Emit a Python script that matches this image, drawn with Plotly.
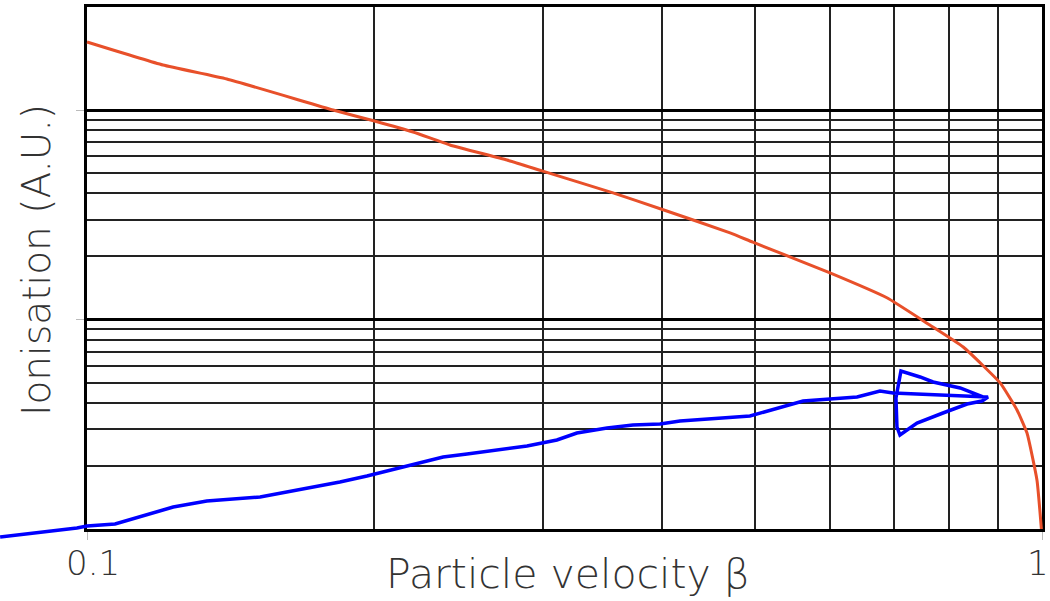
import math
import plotly.graph_objects as go

# Ionisation vs particle velocity (both axes logarithmic)
red_beta = [0.1, 0.1201, 0.1401, 0.181, 0.2, 0.2195, 0.2399, 0.2753, 0.2995, 0.3555,
            0.399, 0.4714, 0.498, 0.5998, 0.688, 0.763, 0.827, 0.904, 0.9415, 0.9645,
            0.988, 0.9985]
red_ion = [211.2, 164.0, 140.6, 100.0, 88.6, 78.5, 68.1, 57.7, 51.2, 40.2,
           33.7, 25.9, 23.4, 16.7, 12.7, 9.41, 7.39, 4.98, 3.70, 2.87,
           1.71, 1.0]

blue_beta = [0.0811, 0.0944, 0.0976, 0.1, 0.107, 0.1231, 0.1335, 0.1518, 0.162, 0.1671,
             0.184, 0.1964, 0.2127, 0.236, 0.25, 0.2707, 0.2889, 0.3105, 0.3258, 0.3504,
             0.3729, 0.3981, 0.4178, 0.4945, 0.5621, 0.6402, 0.6766, 0.6982,
             0.8779, 0.8653, 0.8347, 0.7876, 0.7398, 0.71, 0.7049, 0.7032,
             0.7117, 0.7453, 0.769, 0.8209, 0.847, 0.8674]
blue_ion = [0.916, 0.989, 1.011, 1.033, 1.056, 1.274, 1.36, 1.421, 1.502, 1.552,
            1.676, 1.79, 1.955, 2.206, 2.28, 2.383, 2.49, 2.659, 2.872, 3.034,
            3.136, 3.171, 3.278, 3.463, 4.083, 4.267, 4.558, 4.459,
            4.267, 4.083, 3.951, 3.579, 3.206, 2.81, 3.068, 4.22,
            5.678, 5.316, 5.031, 4.711, 4.459, 4.267]

x_minor = [0.2, 0.3, 0.4, 0.5, 0.6, 0.7, 0.8, 0.9]
y_major = [10, 100]
y_minor = [2, 3, 4, 5, 6, 7, 8, 9, 20, 30, 40, 50, 60, 70, 80, 90]
x_tick_labels = ["0.1", "1"]
x_tick_values = [0.1, 1]

W, H = 1050, 601
FONT = "DejaVu Sans"
TXT = "#333333"

x0, x1 = 87, 1042        # frame left/right in px
y_top, y_bot = 7, 529    # frame top/bottom in px
PX_DEC_X = x1 - x0       # px per decade along beta
PX_DEC_Y = 209.5         # px per decade along ionisation

fig = go.Figure()

# framed log grid (subplot x/y)
fig.add_trace(go.Scatter(x=[0.1, 1], y=[1, 100], mode="markers",
                         marker=dict(opacity=0), showlegend=False, hoverinfo="skip"))

# curves on a full-canvas axis pair with the same log scale,
# so the blue stroke can run past the frame on the left
fig.add_trace(go.Scatter(x=red_beta, y=red_ion, mode="lines",
                         line=dict(color="#E8502A", width=3, shape="spline", smoothing=0.4),
                         xaxis="x2", yaxis="y2", showlegend=False))
fig.add_trace(go.Scatter(x=blue_beta, y=blue_ion, mode="lines",
                         line=dict(color="#0000FF", width=3.5),
                         xaxis="x2", yaxis="y2", showlegend=False))

fig.update_layout(
    width=W, height=H,
    margin=dict(l=0, r=0, t=0, b=0),
    paper_bgcolor="white", plot_bgcolor="rgba(0,0,0,0)",
    xaxis=dict(
        type="log", range=[-1, 0],
        domain=[x0 / W, x1 / W], anchor="y",
        showline=True, linecolor="black", linewidth=3, mirror=True,
        tickvals=x_tick_values, ticks="outside", ticklen=8, tickcolor="#bbbbbb",
        tickwidth=1, showticklabels=False, showgrid=False, zeroline=False,
        minor=dict(tickvals=x_minor, showgrid=True, gridcolor="#222222",
                   gridwidth=1.5, ticks=""),
    ),
    yaxis=dict(
        type="log", range=[0, (y_bot - y_top) / PX_DEC_Y],
        domain=[(H - y_bot) / H, (H - y_top) / H], anchor="x",
        showline=True, linecolor="black", linewidth=3, mirror=True,
        tickvals=y_major, ticks="outside", ticklen=8, tickcolor="#bbbbbb", tickwidth=1,
        showticklabels=False, showgrid=True, gridcolor="black", gridwidth=3,
        zeroline=False,
        minor=dict(tickvals=y_minor, showgrid=True, gridcolor="#222222",
                   gridwidth=1.5, ticks=""),
    ),
    xaxis2=dict(
        type="log", domain=[0, 1], anchor="y2",
        range=[-1 - x0 / PX_DEC_X, (W - x0) / PX_DEC_X - 1],
        visible=False, showgrid=False, zeroline=False, fixedrange=True,
    ),
    yaxis2=dict(
        type="log", domain=[0, 1], anchor="x2",
        range=[-(H - y_bot) / PX_DEC_Y, y_bot / PX_DEC_Y],
        visible=False, showgrid=False, zeroline=False, fixedrange=True,
    ),
    showlegend=False,
)

# tick labels at the two ends of the beta axis (log axis -> log10 position)
for txt, val, dx in zip(x_tick_labels, x_tick_values, [6, -4]):
    fig.add_annotation(text=txt, x=math.log10(val), xref="x", y=(H - 563) / H,
                       yref="paper", xanchor="center", yanchor="middle",
                       showarrow=False, xshift=dx, borderpad=0,
                       font=dict(family=FONT, size=34, color=TXT, weight=300))

fig.add_annotation(text="Particle velocity β", x=568 / W, y=(H - 574) / H,
                   xref="paper", yref="paper", xanchor="center", yanchor="middle",
                   showarrow=False,
                   font=dict(family=FONT, size=41, color=TXT, weight=300))
fig.add_annotation(text="Ionisation (A.U.)", x=37 / W, y=(H - 260) / H,
                   xref="paper", yref="paper", xanchor="center", yanchor="middle",
                   showarrow=False, textangle=-90,
                   font=dict(family=FONT, size=39, color=TXT, weight=300))

fig.write_html("out.html")
